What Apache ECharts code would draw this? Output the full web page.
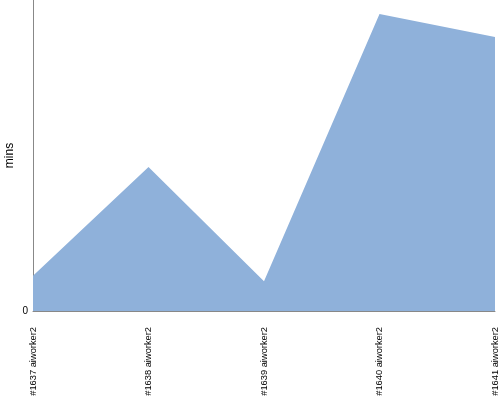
<!DOCTYPE html>
<html><head><meta charset="utf-8">
<script src="https://cdn.jsdelivr.net/npm/echarts@6/dist/echarts.min.js"></script>
<style>html,body{margin:0;padding:0;background:#fff}#c{width:500px;height:400px}</style>
</head><body><div id="c"></div>
<script>
const categories = ["#1637 aiworker2", "#1638 aiworker2", "#1639 aiworker2", "#1640 aiworker2", "#1641 aiworker2"];
const values = [11.3, 46.3, 9.6, 95.5, 88.1];
const yTicks = ["0"];
const chart = echarts.init(document.getElementById('c'));
chart.setOption({
  animation: false,
  grid: {left: 33, right: 5, top: 0, bottom: 89, outerBoundsMode: 'none', containLabel: false},
  xAxis: {
    type: 'category', data: categories, boundaryGap: false,
    axisLine: {lineStyle: {color: '#888', width: 1}},
    axisTick: {show: false},
    axisLabel: {rotate: 90, fontSize: 9.3, color: '#000', fontFamily: 'Liberation Sans Narrow, Arial, sans-serif', margin: 16, interval: 0}
  },
  yAxis: {
    type: 'value', min: 0, max: 100, interval: 100,
    name: 'mins', nameLocation: 'middle', nameGap: 17, nameMoveOverlap: false,
    nameTextStyle: {fontSize: 12, color: '#000', fontFamily: 'Arial, sans-serif'},
    axisLine: {show: true, lineStyle: {color: '#888', width: 1}},
    axisTick: {show: false},
    splitLine: {show: false},
    axisLabel: {fontSize: 10, color: '#000', margin: 5, formatter: v => v === 0 ? yTicks[0] : ''}
  },
  series: [{
    type: 'line', data: values, symbol: 'none',
    lineStyle: {width: 0}, areaStyle: {color: '#8fb1da', opacity: 1}
  }]
});
</script></body></html>
